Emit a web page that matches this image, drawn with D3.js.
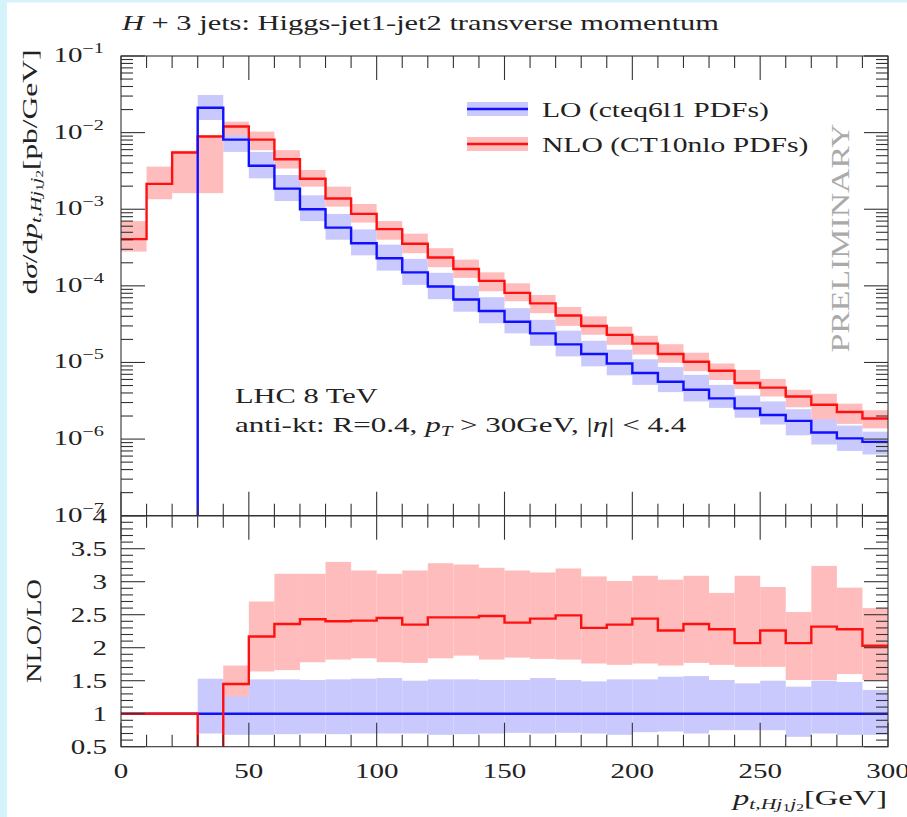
<!DOCTYPE html>
<html lang="en">
<head>
<meta charset="utf-8">
<title>H + 3 jets: Higgs-jet1-jet2 transverse momentum</title>
<script src="https://cdn.jsdelivr.net/npm/d3@7"></script>
<style>
  body { margin: 0; background: #fff; }
  text { font-family: "Liberation Serif", "DejaVu Serif", serif; fill: #222; }
</style>
</head>
<body>
<div id="chart"></div>
<script>
// bin edges (GeV), 10 GeV bins
var binEdges = [0, 10, 20, 30, 40, 50, 60, 70, 80, 90, 100, 110, 120, 130, 140, 150,
                160, 170, 180, 190, 200, 210, 220, 230, 240, 250, 260, 270, 280, 290, 300];

// d sigma / d pt  [pb/GeV]
var nloVal = [4.07e-4, 2.14e-3, 5.5e-3, 8.9e-3, 1.2e-2, 8.1e-3, 4.5e-3, 2.5e-3, 1.38e-3, 8.7e-4,
              5.5e-4, 3.55e-4, 2.34e-4, 1.66e-4, 1.16e-4, 8.1e-5, 5.9e-5, 4.1e-5, 2.99e-5, 2.29e-5,
              1.76e-5, 1.29e-5, 1.02e-5, 7.8e-6, 5.4e-6, 4.7e-6, 3.6e-6, 2.8e-6, 2.26e-6, 1.86e-6];
var nloHi  = [7.0e-4, 3.6e-3, 5.8e-3, 9.3e-3, 1.39e-2, 1.03e-2, 5.9e-3, 3.25e-3, 1.97e-3, 1.17e-3,
              7.0e-4, 4.8e-4, 3.1e-4, 2.2e-4, 1.5e-4, 1.08e-4, 7.6e-5, 5.3e-5, 4.0e-5, 2.93e-5,
              2.23e-5, 1.73e-5, 1.34e-5, 9.7e-6, 8.0e-6, 6.1e-6, 4.4e-6, 3.9e-6, 2.9e-6, 2.38e-6];
var nloLo  = [2.8e-4, 1.35e-3, 1.62e-3, 1.62e-3, 9.3e-3, 5.9e-3, 3.4e-3, 1.97e-3, 1.08e-3, 6.7e-4,
              4.0e-4, 2.67e-4, 1.75e-4, 1.27e-4, 8.5e-5, 6.3e-5, 4.4e-5, 3.0e-5, 2.3e-5, 1.7e-5,
              1.27e-5, 9.9e-6, 7.7e-6, 5.9e-6, 4.5e-6, 3.6e-6, 2.6e-6, 1.82e-6, 1.58e-6, 1.38e-6];

var loVal  = [0, 0, 0, 2.11e-2, 8.1e-3, 3.7e-3, 1.86e-3, 1.0e-3, 5.75e-4, 3.6e-4,
              2.29e-4, 1.5e-4, 9.8e-5, 6.65e-5, 4.7e-5, 3.4e-5, 2.4e-5, 1.72e-5, 1.29e-5, 9.7e-6,
              7.3e-6, 5.6e-6, 4.4e-6, 3.4e-6, 2.52e-6, 2.06e-6, 1.73e-6, 1.22e-6, 1.02e-6, 9.2e-7];
var loHi   = [null, null, null, 3.1e-2, 1.2e-2, 5.6e-3, 2.8e-3, 1.52e-3, 8.7e-4, 5.45e-4,
              3.45e-4, 2.25e-4, 1.48e-4, 1.0e-4, 7.1e-5, 5.1e-5, 3.6e-5, 2.6e-5, 1.92e-5, 1.47e-5,
              1.1e-5, 8.7e-6, 6.9e-6, 5.1e-6, 3.7e-6, 3.1e-6, 2.45e-6, 1.83e-6, 1.5e-6, 1.25e-6];
var loLo   = [null, null, null, 1.46e-2, 5.6e-3, 2.53e-3, 1.28e-3, 7.0e-4, 4.0e-4, 2.5e-4,
              1.58e-4, 1.03e-4, 6.7e-5, 4.6e-5, 3.25e-5, 2.4e-5, 1.65e-5, 1.2e-5, 8.9e-6, 6.8e-6,
              5.1e-6, 4.1e-6, 3.1e-6, 2.55e-6, 1.9e-6, 1.55e-6, 1.12e-6, 8.5e-7, 7.0e-7, 6.3e-7];

// NLO/LO ratio panel
var ratioNlo   = [1, 1, 1, 0.42, 1.45, 2.17, 2.36, 2.43, 2.40, 2.41,
                  2.45, 2.35, 2.46, 2.46, 2.48, 2.38, 2.44, 2.49, 2.30, 2.35,
                  2.44, 2.26, 2.36, 2.28, 2.07, 2.26, 2.07, 2.32, 2.28, 2.03];
var ratioNloHi = [null, null, null, null, 1.73, 2.70, 3.12, 3.12, 3.30, 3.17,
                  3.12, 3.17, 3.28, 3.26, 3.21, 3.17, 3.14, 3.20, 3.08, 3.01,
                  3.09, 3.03, 3.09, 2.83, 3.09, 2.92, 2.54, 3.24, 2.91, 2.60];
var ratioNloLo = [null, null, null, null, 1.26, 1.64, 1.66, 1.78, 1.82, 1.84,
                  1.78, 1.77, 1.84, 1.88, 1.82, 1.85, 1.83, 1.82, 1.76, 1.74,
                  1.76, 1.73, 1.77, 1.74, 1.71, 1.71, 1.51, 1.51, 1.60, 1.51];
var ratioLo    = [1, 1, 1, 1, 1, 1, 1, 1, 1, 1, 1, 1, 1, 1, 1, 1, 1, 1, 1, 1,
                  1, 1, 1, 1, 1, 1, 1, 1, 1, 1];
var ratioLoHi  = [null, null, null, 1.53, 1.52, 1.52, 1.52, 1.51, 1.52, 1.53,
                  1.54, 1.50, 1.52, 1.52, 1.51, 1.51, 1.54, 1.51, 1.49, 1.52,
                  1.52, 1.56, 1.57, 1.51, 1.46, 1.50, 1.41, 1.50, 1.48, 1.36];
var ratioLoLo  = [null, null, null, 0.70, 0.68, 0.68, 0.69, 0.70, 0.69, 0.70,
                  0.70, 0.70, 0.68, 0.69, 0.70, 0.71, 0.70, 0.71, 0.70, 0.68,
                  0.72, 0.73, 0.70, 0.75, 0.75, 0.75, 0.65, 0.70, 0.68, 0.68];

var legendLabels = ["LO (cteq6l1 PDFs)", "NLO (CT10nlo PDFs)"];
var mainTickExp = [-1, -2, -3, -4, -5, -6, -7];
var ratioTickLabels = ["0.5", "1", "1.5", "2", "2.5", "3", "3.5", "4"];
var xTickLabels = [0, 50, 100, 150, 200, 250, 300];

var w = 907, h = 817;
var left = 121, right = 888, mainTop = 56, mainBot = 515.7, ratioBot = 746.7;
var blue = "#1010ff", red = "#ff1010", blueBand = "#c9c9fd", redBand = "#ffbcbc";
var sx = 1.45; // horizontal stretch of the original lettering

var svg = d3.select("#chart").append("svg")
            .attr("width", w)
            .attr("height", h);

// light cyan frame of the screenshot
svg.append("rect").attr("x", 0).attr("y", 0).attr("width", 7).attr("height", h).attr("fill", "#d6f3fb");
svg.append("rect").attr("x", 0).attr("y", 0).attr("width", w).attr("height", 2.5).attr("fill", "#d6f3fb");

var x = d3.scaleLinear().domain([0, 300]).range([left, right]);
var yMain = d3.scaleLog().domain([1e-7, 1e-1]).range([mainBot, mainTop]);
var yRatio = d3.scaleLinear().domain([0.5, 4]).range([ratioBot, mainBot]);

var defs = svg.append("defs");
defs.append("clipPath").attr("id", "clipMain").append("rect")
    .attr("x", left).attr("y", mainTop).attr("width", right - left).attr("height", mainBot - mainTop);
defs.append("clipPath").attr("id", "clipRatio").append("rect")
    .attr("x", left).attr("y", mainBot).attr("width", right - left).attr("height", ratioBot - mainBot);

function bands(g, lo, hi, y, fill) {
  var idx = d3.range(lo.length).filter(function(i) { return lo[i] != null && hi[i] != null; });
  g.selectAll(null)
   .data(idx)
   .enter()
   .append("rect")
   .attr("x", function(i) { return x(binEdges[i]); })
   .attr("width", function(i) { return x(binEdges[i + 1]) - x(binEdges[i]); })
   .attr("y", function(i) { return y(hi[i]); })
   .attr("height", function(i) { return y(lo[i]) - y(hi[i]); })
   .attr("fill", fill);
}

// histogram outline; empty bins fall below the panel and are clipped
function step(g, vals, y, color) {
  var pts = vals.map(function(v, i) { return [binEdges[i], v]; });
  pts.push([binEdges[vals.length], vals[vals.length - 1]]);
  var line = d3.line()
               .x(function(d) { return x(d[0]); })
               .y(function(d) { return d[1] > 0 ? y(d[1]) : y.range()[0] + 20; })
               .curve(d3.curveStepAfter);
  g.append("path")
   .attr("d", line(pts))
   .attr("fill", "none")
   .attr("stroke", color)
   .attr("stroke-width", 2.4);
}

// main panel
var gMain = svg.append("g").attr("clip-path", "url(#clipMain)");
bands(gMain, loLo, loHi, yMain, blueBand);
bands(gMain, nloLo, nloHi, yMain, redBand);
step(gMain, nloVal, yMain, red);
step(gMain, loVal, yMain, blue);

// ratio panel
var gRatio = svg.append("g").attr("clip-path", "url(#clipRatio)");
bands(gRatio, ratioLoLo, ratioLoHi, yRatio, blueBand);
bands(gRatio, ratioNloLo, ratioNloHi, yRatio, redBand);
step(gRatio, ratioLo, yRatio, blue);
step(gRatio, ratioNlo, yRatio, red);

// frames and ticks
var axes = svg.append("g").attr("stroke", "#333").attr("stroke-width", 1.1).attr("fill", "none");
axes.append("rect").attr("x", left).attr("y", mainTop).attr("width", right - left).attr("height", ratioBot - mainTop);
axes.append("line").attr("x1", left).attr("x2", right).attr("y1", mainBot).attr("y2", mainBot).attr("stroke-width", 1.6);

function tick(x1, y1, x2, y2) {
  axes.append("line").attr("x1", x1).attr("y1", y1).attr("x2", x2).attr("y2", y2);
}

x.ticks(30).forEach(function(v) {
  var len = v % 50 === 0 ? 24 : 12;
  [mainTop, mainBot].forEach(function(yy) { tick(x(v), yy, x(v), yy + len); });
  [mainBot, ratioBot].forEach(function(yy) { tick(x(v), yy, x(v), yy - len); });
});

mainTickExp.forEach(function(e) {
  var yy = yMain(Math.pow(10, e));
  tick(left, yy, left + 24, yy);
  tick(right, yy, right - 24, yy);
  if (e > -7) {
    for (var k = 2; k <= 9; k++) {
      var ym = yMain(k * Math.pow(10, e - 1));
      tick(left, ym, left + 12, ym);
      tick(right, ym, right - 12, ym);
    }
  }
});

yRatio.ticks(35).forEach(function(v) {
  var major = Math.abs(v * 2 - Math.round(v * 2)) < 1e-6;
  var len = major ? 24 : 12;
  var yy = yRatio(v);
  tick(left, yy, left + len, yy);
  tick(right, yy, right - len, yy);
});

// text helper: the lettering of the original is wide, so stretch horizontally
function label(tx, ty, anchor, size, rot, stretch) {
  var tr = "translate(" + tx + "," + ty + ")" + (rot ? " rotate(" + rot + ")" : "") +
           " scale(" + (stretch || sx) + ",1)";
  return svg.append("text")
            .attr("transform", tr)
            .attr("text-anchor", anchor)
            .attr("font-size", size);
}

// tick labels
mainTickExp.forEach(function(e) {
  var t = label(104, yMain(Math.pow(10, e)) + 6, "end", 20);
  t.append("tspan").text("10");
  t.append("tspan").attr("dy", -9).attr("font-size", 14).text("\u2212" + Math.abs(e));
});
ratioTickLabels.forEach(function(s) {
  label(107, yRatio(+s) + 7, "end", 20).text(s);
});
xTickLabels.forEach(function(v) {
  label(x(v), 778, "middle", 20).text(v);
});

// title
var title = label(122, 30, "start", 21);
title.append("tspan").attr("font-style", "italic").text("H");
title.append("tspan").text(" + 3 jets:  Higgs-jet1-jet2 transverse momentum");

// axis titles
var yl = label(37, 172, "middle", 21, -90, 1.5);
yl.append("tspan").text("d");
yl.append("tspan").attr("font-style", "italic").text("\u03c3");
yl.append("tspan").text("/d");
yl.append("tspan").attr("font-style", "italic").text("p");
yl.append("tspan").attr("font-style", "italic").attr("font-size", 14).attr("dy", 4).text("t,Hj");
yl.append("tspan").attr("font-size", 10).attr("dy", 2).text("1");
yl.append("tspan").attr("font-style", "italic").attr("font-size", 14).attr("dy", -2).text("j");
yl.append("tspan").attr("font-size", 10).attr("dy", 2).text("2");
yl.append("tspan").attr("dy", -6).text("[pb/GeV]");

label(41, 631, "middle", 21, -90, 1.35).text("NLO/LO");

var xl = label(887, 805, "end", 21, 0, 1.55);
xl.append("tspan").attr("font-style", "italic").text("p");
xl.append("tspan").attr("font-style", "italic").attr("font-size", 14).attr("dy", 4).text("t,Hj");
xl.append("tspan").attr("font-size", 10).attr("dy", 2).text("1");
xl.append("tspan").attr("font-style", "italic").attr("font-size", 14).attr("dy", -2).text("j");
xl.append("tspan").attr("font-size", 10).attr("dy", 2).text("2");
xl.append("tspan").attr("dy", -6).text("[GeV]");

// annotations
label(235, 403, "start", 21).text("LHC 8 TeV");
var an = label(235, 432, "start", 21, 0, 1.48);
an.append("tspan").text("anti-kt: R=0.4, ");
an.append("tspan").attr("font-style", "italic").text("p");
an.append("tspan").attr("font-style", "italic").attr("font-size", 14).attr("dy", 4).text("T");
an.append("tspan").attr("dy", -4).text(" > 30GeV, |");
an.append("tspan").attr("font-style", "italic").text("\u03b7");
an.append("tspan").text("| < 4.4");

label(849, 238, "middle", 26, -90, 1.3).style("fill", "#aaa").text("PRELIMINARY");

// legend
var legY = [109, 144];
var legCol = [[blue, blueBand], [red, redBand]];
legendLabels.forEach(function(s, i) {
  svg.append("rect").attr("x", 467).attr("y", legY[i] - 7).attr("width", 61).attr("height", 14)
     .attr("fill", legCol[i][1]);
  svg.append("line").attr("x1", 467).attr("x2", 528).attr("y1", legY[i]).attr("y2", legY[i])
     .attr("stroke", legCol[i][0]).attr("stroke-width", 2.4);
  label(542, legY[i] + 8, "start", 21, 0, 1.41).text(s);
});
</script>
</body>
</html>
